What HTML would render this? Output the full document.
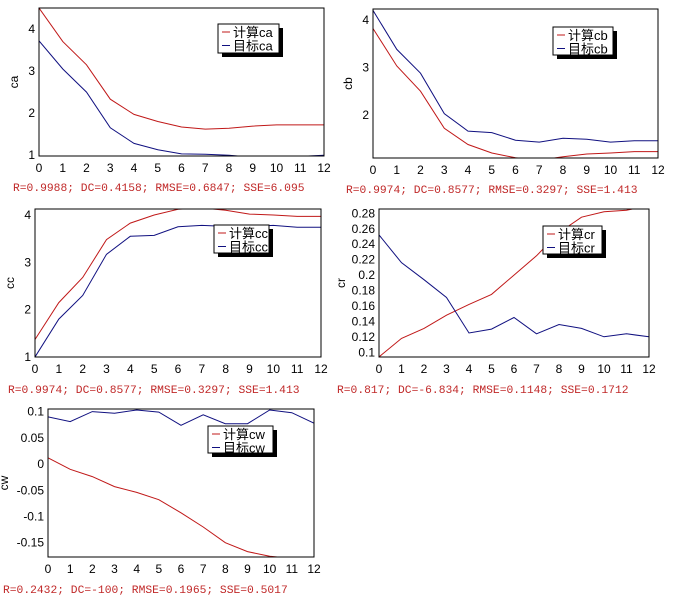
<!DOCTYPE html>
<html><head><meta charset="utf-8">
<style>
html,body{margin:0;padding:0;background:#fff;width:679px;height:608px;overflow:hidden}
</style></head>
<body>
<svg id="root" width="679" height="608" xmlns="http://www.w3.org/2000/svg" style="font-family:'Liberation Sans','Noto Sans CJK SC',sans-serif"></svg>
<script>
const xCats=[0,1,2,3,4,5,6,7,8,9,10,11,12];
const caCalc=[4.5,3.7,3.15,2.33,1.97,1.8,1.67,1.62,1.64,1.69,1.72,1.72,1.72];
const caTarget=[3.72,3.05,2.5,1.65,1.28,1.13,1.03,1.02,1.0,0.95,0.93,0.97,1.0];
const cbCalc=[3.82,3.03,2.5,1.72,1.38,1.2,1.1,1.05,1.12,1.18,1.2,1.23,1.23];
const cbTarget=[4.2,3.38,2.88,2.03,1.66,1.63,1.47,1.43,1.51,1.49,1.43,1.46,1.46];
const ccCalc=[1.37,2.15,2.68,3.48,3.83,4.0,4.12,4.15,4.1,4.02,4.0,3.97,3.97];
const ccTarget=[1.0,1.8,2.3,3.17,3.55,3.57,3.75,3.78,3.76,3.76,3.78,3.74,3.74];
const crCalc=[0.094,0.118,0.131,0.148,0.162,0.175,0.2,0.225,0.255,0.275,0.282,0.284,0.29];
const crTarget=[0.252,0.216,0.194,0.171,0.125,0.13,0.145,0.124,0.136,0.131,0.12,0.124,0.12];
const cwCalc=[0.012,-0.01,-0.024,-0.043,-0.054,-0.068,-0.093,-0.12,-0.15,-0.167,-0.176,-0.18,-0.18];
const cwTarget=[0.09,0.081,0.1,0.097,0.103,0.099,0.074,0.094,0.077,0.077,0.103,0.098,0.078];
const caTicks=[1,2,3,4];
const cbTicks=[2,3,4];
const ccTicks=[1,2,3,4];
const crTicks=[0.1,0.12,0.14,0.16,0.18,0.2,0.22,0.24,0.26,0.28];
const cwTicks=[0.1,0.05,0,-0.05,-0.1,-0.15];
const statsTexts=["R=0.9988; DC=0.4158; RMSE=0.6847; SSE=6.095","R=0.9974; DC=0.8577; RMSE=0.3297; SSE=1.413","R=0.9974; DC=0.8577; RMSE=0.3297; SSE=1.413","R=0.817; DC=-6.834; RMSE=0.1148; SSE=0.1712","R=0.2432; DC=-100; RMSE=0.1965; SSE=0.5017"];

const NS="http://www.w3.org/2000/svg";
const root=document.getElementById('root');
function mk(tag,attrs,parent){const e=document.createElementNS(NS,tag);for(const k in attrs)e.setAttribute(k,attrs[k]);(parent||root).appendChild(e);return e;}

const charts=[
 {key:'ca',calc:caCalc,tgt:caTarget,ticks:caTicks,L:39,R:324,T:8,B:156,ymin:0.98,ymax:4.5,yl:18,leg:[218,24,61,29],st:[13,191]},
 {key:'cb',calc:cbCalc,tgt:cbTarget,ticks:cbTicks,L:373,R:658,T:9,B:158,ymin:1.095,ymax:4.23,yl:352,leg:[553,27,60,28],st:[346,193]},
 {key:'cc',calc:ccCalc,tgt:ccTarget,ticks:ccTicks,L:35,R:321,T:209,B:357,ymin:1.0,ymax:4.127,yl:14,leg:[214,225,55,28],st:[8,393]},
 {key:'cr',calc:crCalc,tgt:crTarget,ticks:crTicks,L:379,R:649,T:209,B:357,ymin:0.0939,ymax:0.2856,yl:345,leg:[543,226,59,28],st:[337,393]},
 {key:'cw',calc:cwCalc,tgt:cwTarget,ticks:cwTicks,L:48,R:314,T:409,B:557,ymin:-0.1773,ymax:0.105,yl:8,leg:[208,426,65,27],st:[3,593]}
];

charts.forEach((c,i)=>{
  const g=mk('g',{});
  
  
  const xs=v=>c.L+(v-xCats[0])/(xCats[xCats.length-1]-xCats[0])*(c.R-c.L);
  const ys=v=>c.B-(v-c.ymin)/(c.ymax-c.ymin)*(c.B-c.T);
  const cp=mk('clipPath',{id:'clip'+i},g);
  mk('rect',{x:c.L,y:c.T,width:c.R-c.L,height:c.B-c.T},cp);
  [[c.calc,'#c01818','calc'],[c.tgt,'#101080','target']].forEach(([arr,col,nm])=>{
    const p=mk('polyline',{points:arr.map((v,j)=>xs(xCats[j]).toFixed(1)+','+ys(v).toFixed(1)).join(' '),fill:'none',stroke:col,'stroke-width':1,'clip-path':'url(#clip'+i+')'},g);
    
    
  });
  const fr=mk('rect',{x:c.L,y:c.T,width:c.R-c.L,height:c.B-c.T,fill:'none',stroke:'#000','stroke-width':1},g);
  
  
  xCats.forEach(v=>{
    const t=mk('text',{x:xs(v),y:c.B+16,'font-size':12,'text-anchor':'middle'},g);
    t.textContent=v;
    
    
  });
  c.ticks.forEach(v=>{
    const t=mk('text',{x:c.L-4,y:ys(v)+4,'font-size':12,'text-anchor':'end'},g);
    t.textContent=v;
    
    
  });
  const yt=mk('text',{x:c.yl,y:(c.T+c.B)/2,'font-size':12,'text-anchor':'middle',transform:'rotate(-90 '+c.yl+' '+((c.T+c.B)/2)+')'},g);
  yt.textContent=c.key;
  
  
  const [lx,ly,lw,lh]=c.leg;
  const lg=mk('g',{},g);
  
  
  mk('rect',{x:lx+4,y:ly+4,width:lw,height:lh,fill:'#000'},lg);
  mk('rect',{x:lx,y:ly,width:lw,height:lh,fill:'#fff',stroke:'#000','stroke-width':1},lg);
  [['计算','#c01818'],['目标','#101080']].forEach(([lab,col],k)=>{
    const yy=ly+8+k*13.5;
    mk('line',{x1:lx+4,x2:lx+12,y1:yy,y2:yy,stroke:col},lg);
    const t=mk('text',{x:lx+15,y:yy+5,'font-size':13},lg);
    t.textContent=lab+c.key;
    
    
  });
  const st=mk('text',{x:c.st[0],y:c.st[1],fill:'#c02828','font-size':11.3,style:"font-family:'Liberation Mono',monospace"},g);
  st.textContent=statsTexts[i];
  
  
});
</script>
</body></html>
